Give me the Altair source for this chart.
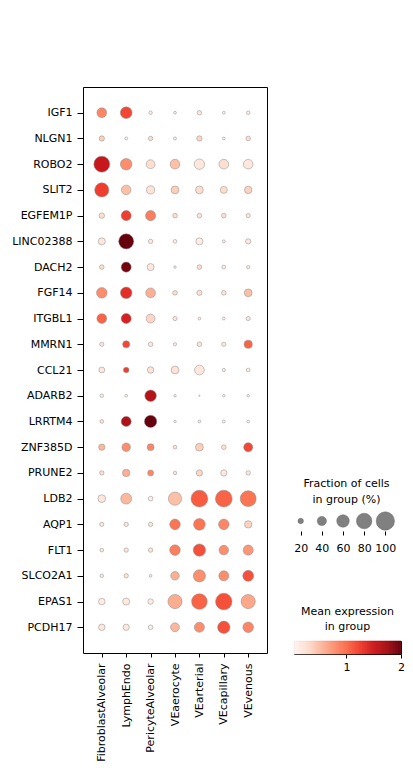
import altair as alt
import numpy as np
import pandas as pd

genes = ["IGF1", "NLGN1", "ROBO2", "SLIT2", "EGFEM1P", "LINC02388", "DACH2",
         "FGF14", "ITGBL1", "MMRN1", "CCL21", "ADARB2", "LRRTM4", "ZNF385D",
         "PRUNE2", "LDB2", "AQP1", "FLT1", "SLCO2A1", "EPAS1", "PCDH17"]
groups = ["FibroblastAlveolar", "LymphEndo", "PericyteAlveolar", "VEaerocyte",
          "VEarterial", "VEcapillary", "VEvenous"]

# fraction of cells in each group expressing the gene (one row per gene)
frac_rows = [
    [0.43, 0.55, 0.11, 0.08, 0.15, 0.08, 0.11],
    [0.19, 0.09, 0.15, 0.09, 0.19, 0.08, 0.16],
    [0.83, 0.54, 0.38, 0.43, 0.47, 0.43, 0.42],
    [0.71, 0.42, 0.34, 0.32, 0.32, 0.28, 0.30],
    [0.20, 0.45, 0.45, 0.16, 0.16, 0.16, 0.14],
    [0.28, 0.77, 0.15, 0.12, 0.28, 0.09, 0.19],
    [0.16, 0.45, 0.28, 0.07, 0.16, 0.12, 0.10],
    [0.48, 0.54, 0.43, 0.16, 0.19, 0.16, 0.32],
    [0.43, 0.45, 0.38, 0.14, 0.08, 0.08, 0.14],
    [0.14, 0.28, 0.16, 0.10, 0.16, 0.14, 0.34],
    [0.22, 0.20, 0.25, 0.32, 0.43, 0.10, 0.12],
    [0.11, 0.08, 0.54, 0.07, 0.03, 0.07, 0.07],
    [0.12, 0.45, 0.59, 0.07, 0.08, 0.09, 0.08],
    [0.24, 0.36, 0.27, 0.12, 0.32, 0.16, 0.39],
    [0.15, 0.30, 0.22, 0.11, 0.24, 0.24, 0.15],
    [0.32, 0.50, 0.16, 0.65, 0.89, 0.89, 0.83],
    [0.14, 0.15, 0.15, 0.48, 0.55, 0.48, 0.30],
    [0.12, 0.15, 0.15, 0.48, 0.59, 0.42, 0.45],
    [0.11, 0.15, 0.08, 0.36, 0.58, 0.45, 0.50],
    [0.25, 0.28, 0.20, 0.71, 0.81, 0.87, 0.71],
    [0.25, 0.24, 0.16, 0.38, 0.45, 0.59, 0.48],
]

# mean expression of the gene in each group (one row per gene)
expr_rows = [
    [0.85, 1.20, 0.15, 0.10, 0.20, 0.10, 0.15],
    [0.40, 0.10, 0.30, 0.15, 0.35, 0.15, 0.30],
    [1.53, 0.80, 0.30, 0.50, 0.20, 0.30, 0.20],
    [1.25, 0.50, 0.25, 0.40, 0.30, 0.30, 0.38],
    [0.30, 1.25, 0.90, 0.30, 0.25, 0.28, 0.20],
    [0.20, 2.00, 0.20, 0.10, 0.15, 0.15, 0.20],
    [0.30, 1.95, 0.20, 0.10, 0.30, 0.15, 0.15],
    [0.80, 1.35, 0.60, 0.30, 0.30, 0.25, 0.50],
    [1.05, 1.45, 0.35, 0.20, 0.15, 0.15, 0.20],
    [0.20, 1.20, 0.20, 0.15, 0.25, 0.20, 1.05],
    [0.20, 1.25, 0.25, 0.25, 0.20, 0.15, 0.15],
    [0.15, 0.10, 1.65, 0.10, 0.10, 0.10, 0.10],
    [0.25, 1.70, 2.00, 0.10, 0.15, 0.15, 0.10],
    [0.55, 0.80, 0.85, 0.25, 0.40, 0.25, 1.20],
    [0.30, 0.60, 0.85, 0.20, 0.35, 0.20, 0.20],
    [0.20, 0.55, 0.15, 0.50, 1.10, 1.05, 0.95],
    [0.20, 0.25, 0.25, 0.95, 0.95, 0.85, 0.38],
    [0.20, 0.25, 0.25, 0.90, 1.15, 0.80, 0.75],
    [0.20, 0.25, 0.20, 0.60, 0.80, 0.80, 1.15],
    [0.15, 0.18, 0.15, 0.62, 1.05, 1.15, 0.65],
    [0.20, 0.20, 0.15, 0.55, 0.80, 1.15, 0.85],
]

size_values = [0.2, 0.4, 0.6, 0.8, 1.0]
size_labels = ["20", "40", "60", "80", "100"]
colorbar_ticks = [1, 2]

vmin, vmax = 0.04, 2.0
reds = ["#fff5f0", "#fee0d2", "#fcbba1", "#fc9272", "#fb6a4a",
        "#ef3b2c", "#cb181d", "#a50f15", "#67000d"]
FONT = "DejaVu Sans"

rows = []
for g, fr, ex in zip(genes, frac_rows, expr_rows):
    for grp, f, e in zip(groups, fr, ex):
        rows.append({"gene": g, "group": grp, "frac": f, "expr": e})
df = pd.DataFrame(rows)

color_scale = alt.Scale(domain=list(np.linspace(vmin, vmax, len(reds))),
                        range=reds, interpolate="rgb", clamp=True)
size_scale = alt.Scale(type="pow", exponent=1.5, domain=[0, 1], range=[0, 336])

main = alt.Chart(df).mark_circle(
    opacity=1, stroke="#8a8a8a", strokeWidth=0.5
).encode(
    x=alt.X("group:N", sort=groups,
            scale=alt.Scale(type="point", padding=0.77),
            axis=alt.Axis(title=None, labelAngle=270, tickSize=4, labelPadding=6,
                          domain=False, grid=False)),
    y=alt.Y("gene:N", sort=genes,
            scale=alt.Scale(type="point", padding=1),
            axis=alt.Axis(title=None, tickSize=6, labelPadding=5, domain=False,
                          grid=False, minExtent=82, maxExtent=82)),
    size=alt.Size("frac:Q", scale=size_scale, legend=None),
    color=alt.Color("expr:Q", scale=color_scale, legend=None),
).properties(width=184, height=566,
             view=alt.ViewBackground(stroke="black", strokeWidth=1))

# empty block that pushes the legends down the right-hand column
spacer = alt.Chart(pd.DataFrame({"v": [0]})).mark_point(opacity=0).properties(
    width=98, height=338)

size_df = pd.DataFrame({"frac": size_values, "label": size_labels})
size_legend = alt.Chart(size_df).mark_circle(
    opacity=1, fill="#808080", stroke="#6a6a6a", strokeWidth=0.5
).encode(
    x=alt.X("label:N", sort=size_labels,
            scale=alt.Scale(type="point", padding=0.315),
            axis=alt.Axis(title=None, labelAngle=0, tickSize=4, labelPadding=7,
                          domain=False, grid=False)),
    size=alt.Size("frac:Q", scale=size_scale, legend=None),
).properties(
    width=98, height=20,
    title=alt.TitleParams(text=["Fraction of cells", "in group (%)"], fontSize=11,
                          fontWeight="normal", font=FONT, anchor="middle",
                          dx=3.5, offset=6, lineHeight=16, color="black"),
)

ramp = np.linspace(vmin, vmax, 129)
bar_df = pd.DataFrame({"lo": ramp[:-1], "hi": ramp[1:],
                       "mid": (ramp[:-1] + ramp[1:]) / 2})
colorbar = alt.Chart(bar_df).mark_rect(strokeWidth=0.6).encode(
    x=alt.X("lo:Q", scale=alt.Scale(domain=[vmin, vmax], nice=False, zero=False),
            axis=alt.Axis(values=colorbar_ticks, format="d", title=None, tickSize=4,
                          labelPadding=3, domain=False, grid=False,
                          labelFlush=False)),
    x2="hi:Q",
    color=alt.Color("mid:Q", scale=color_scale, legend=None),
    stroke=alt.Color("mid:Q", scale=color_scale, legend=None),
).properties(
    width=107, height=13,
    view=alt.ViewBackground(stroke="black", strokeWidth=1),
    title=alt.TitleParams(text=["Mean expression", "in group"], fontSize=11,
                          fontWeight="normal", font=FONT, anchor="middle",
                          offset=9, lineHeight=15, color="black"),
)

legends = alt.vconcat(spacer, size_legend, colorbar, spacing=52)

chart = alt.hconcat(main, legends, spacing=25).properties(
    padding={"left": 0, "top": 86, "right": 0, "bottom": 0}
).resolve_scale(
    x="independent", y="independent", color="independent", size="independent"
).configure_view(
    stroke=None
).configure_axis(
    labelFont=FONT, labelFontSize=11, labelColor="black",
    tickColor="black", tickWidth=1,
).configure_title(
    font=FONT, fontSize=11, fontWeight="normal", color="black"
)

chart.save("out.html", embed_options={"renderer": "svg", "actions": False})
